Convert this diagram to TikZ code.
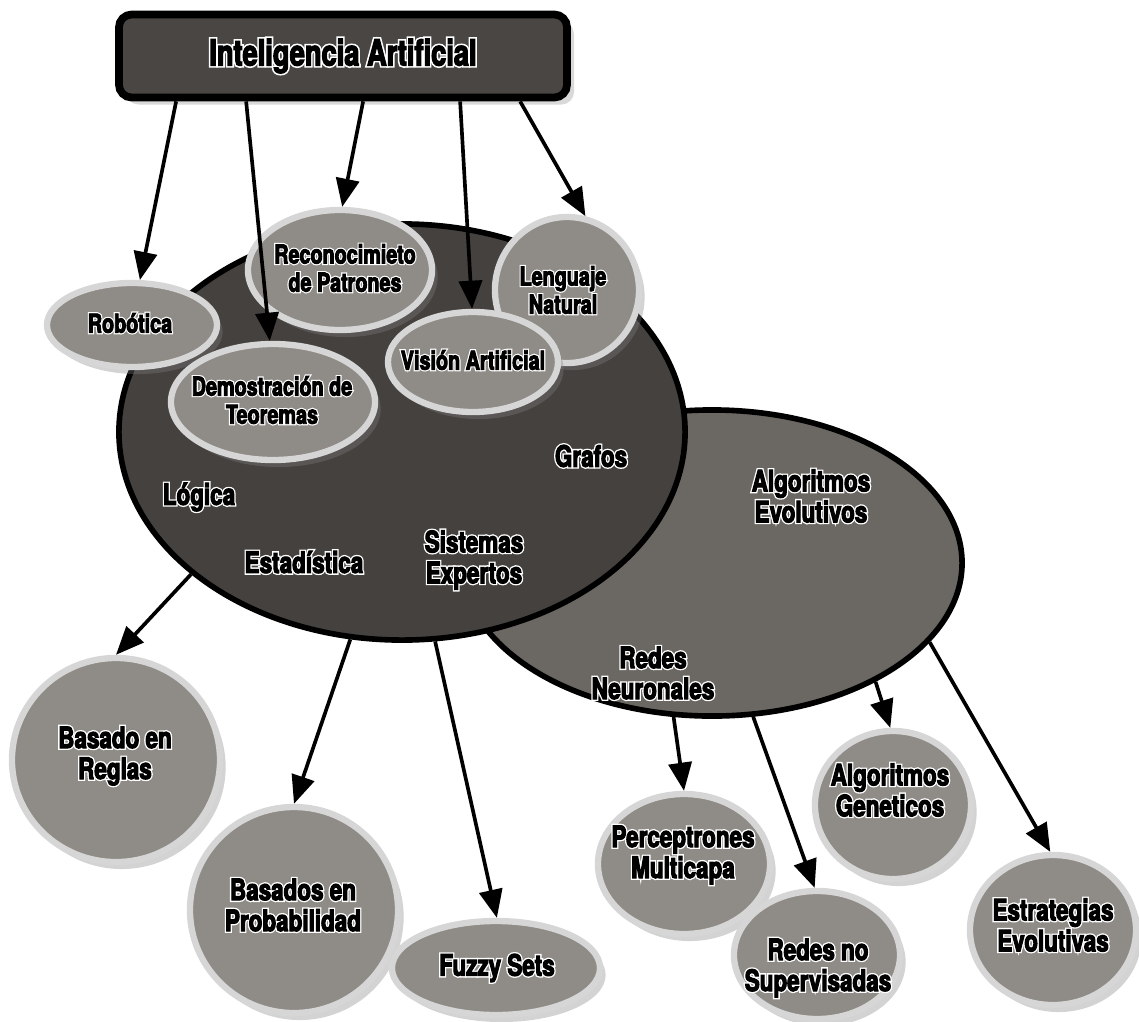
\documentclass[tikz,border=0pt]{standalone}
\usepackage{fontspec}
\newfontfamily\inkfont{texgyreheros-bold.otf}[FakeStretch=0.76, FakeBold=3.5]
\newfontfamily\halofont{texgyreheros-bold.otf}[FakeStretch=0.76, FakeBold=12.5]
\usepackage{tikz}
\usetikzlibrary{shapes.geometric, arrows.meta, shadows, calc}

\definecolor{boxfill}{HTML}{4A4643}
\definecolor{darkfill}{HTML}{45413E}
\definecolor{midfill}{HTML}{6B6763}
\definecolor{leaffill}{HTML}{8F8B86}
\definecolor{leafrim}{HTML}{D6D6D6}

% white rim under black text
\newcommand{\halo}[1]{\leavevmode\rlap{\halofont\color{white}#1}{\inkfont #1}}

\tikzset{
  rxy/.style 2 args={minimum width={#1*0.05cm}, minimum height={#2*0.05cm}},
  leaf/.style={ellipse, draw=leafrim, line width=4.5pt, fill=leaffill, inner sep=0pt,
    drop shadow={opacity=0.35, shadow xshift=4pt, shadow yshift=-5pt}},
  area/.style={ellipse, draw=black, line width=4pt, inner sep=0pt},
  lbl/.style={font=\fontsize{18.5}{20}\selectfont, align=center, inner sep=0pt},
  biglbl/.style={font=\fontsize{21}{22}\selectfont, align=center, inner sep=0pt},
  conn/.style={line width=2.6pt, -{Triangle[length=20pt, width=16.5pt]}}
}

\begin{document}
\begin{tikzpicture}[x=0.025cm, y=-0.025cm]
  \useasboundingbox (0,0) rectangle (1139,1021);

  % Areas
  \node[area, fill=midfill, rxy={250}{153}] (evol) at (712,563) {};
  \node[area, fill=darkfill, rxy={283}{208}] (clasica) at (402,432) {};

  % Title
  \node[draw=black, line width=5.5pt, fill=boxfill, rounded corners=9pt,
        minimum width={448*0.025cm}, minimum height={83*0.025cm},
        drop shadow={opacity=0.3, shadow xshift=5pt, shadow yshift=-5pt}] (ia) at (343,56) {};
  \node[font=\fontsize{25.5}{27}\selectfont] (ia-t) at (ia) {\halo{Inteligencia Artificial}};

  % Upper ellipses
  \node[leaf, rxy={85}{42}] (robo) at (132,325) {};
  \node[leaf, rxy={92}{60}] (recon) at (340,270) {};
  \node[leaf, rxy={72}{73}] (leng) at (567,290) {};
  \node[leaf, rxy={85}{50}] (vision) at (473,362) {};
  \node[leaf, rxy={102}{58}] (demo) at (273,402) {};

  \node[lbl] (robo-t) at (130,323) {\halo{Robótica}};
  \node[lbl] (recon-t) at (345,268) {\halo{Reconocimieto}\\\halo{de Patrones}};
  \node[lbl] (leng-t) at (563,290) {\halo{Lenguaje}\\\halo{Natural}};
  \node[lbl] (vision-t) at (473,360) {\halo{Visión Artificial}};
  \node[lbl] (demo-t) at (272,400) {\halo{Demostración de}\\\halo{Teoremas}};

  % Labels inside the areas
  \node[biglbl] (grafos) at (591,456) {\halo{Grafos}};
  \node[biglbl] (logica) at (199,497) {\halo{Lógica}};
  \node[biglbl] (estad) at (304,562) {\halo{Estadística}};
  \node[biglbl] (sisexp) at (474,560) {\halo{Sistemas}\\\halo{Expertos}};
  \node[biglbl] (algevo) at (811,496) {\halo{Algoritmos}\\\halo{Evolutivos}};
  \node[biglbl] (redneu) at (653,673) {\halo{Redes}\\\halo{Neuronales}};

  % Lower ellipses
  \node[leaf, rxy={104}{102}] (reglas) at (116,760) {};
  \node[leaf, rxy={104}{103}] (prob) at (294,910) {};
  \node[leaf, rxy={104}{47}] (fuzzy) at (496,968) {};
  \node[leaf, rxy={86}{70}] (percep) at (684,864) {};
  \node[leaf, rxy={83}{64}] (nosup) at (817,955) {};
  \node[leaf, rxy={78}{74}] (genet) at (893,805) {};
  \node[leaf, rxy={83}{75}] (estrat) at (1053,930) {};

  \node[biglbl] (reglas-t) at (115,756) {\halo{Basado en}\\\halo{Reglas}};
  \node[biglbl] (prob-t) at (293,905) {\halo{Basados en}\\\halo{Probabilidad}};
  \node[biglbl] (fuzzy-t) at (497,968) {\halo{Fuzzy Sets}};
  \node[biglbl] (percep-t) at (683,855) {\halo{Perceptrones}\\\halo{Multicapa}};
  \node[biglbl] (nosup-t) at (818,968) {\halo{Redes no}\\\halo{Supervisadas}};
  \node[biglbl] (genet-t) at (890,790) {\halo{Algoritmos}\\\halo{Geneticos}};
  \node[biglbl] (estrat-t) at (1053,925) {\halo{Estrategias}\\\halo{Evolutivas}};

  % Connectors
  \draw[conn] ($(ia.south west)+(61,0)$) -- (robo.80);
  \draw[conn] ($(ia.south west)+(131,0)$) -- (demo.93);
  \draw[conn] ($(ia.south west)+(248,0)$) -- (recon.88);
  \draw[conn] ($(ia.south west)+(345,0)$) -- (vision.91);
  \draw[conn] ($(ia.south west)+(405,0)$) -- (leng.76);

  \draw[conn] (clasica.214) -- (reglas.90);
  \draw[conn] (clasica.256) -- (prob.90);
  \draw[conn] (clasica.279) -- (fuzzy.89);

  \draw[conn] (evol.256) -- (percep.90);
  \draw[conn] (evol.285) -- (nosup.92);
  \draw[conn] (evol.324) -- (genet.92);
  \draw[conn] (evol.340) -- (estrat.92);
\end{tikzpicture}
\end{document}
